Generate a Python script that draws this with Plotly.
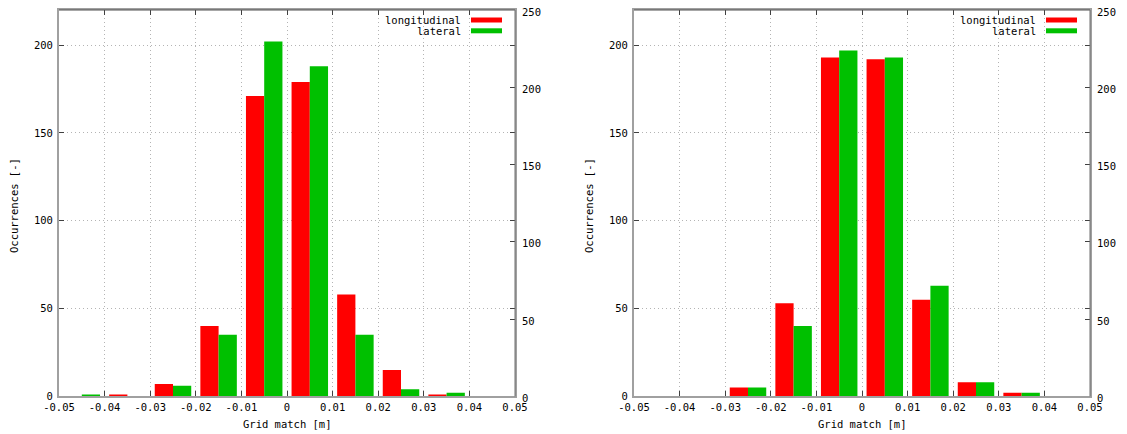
import plotly.graph_objects as go

# ---- data ----
bin_centers = [-0.045, -0.035, -0.025, -0.015, -0.005, 0.005, 0.015, 0.025, 0.035, 0.045]

left_longitudinal = [0, 1, 7, 40, 171, 179, 58, 15, 1, 0]
left_lateral = [1, 0, 6, 35, 202, 188, 35, 4, 2, 0]

right_longitudinal = [0, 0, 5, 53, 193, 192, 55, 8, 2, 0]
right_lateral = [0, 0, 5, 40, 197, 193, 63, 8, 2, 0]

x_tick_vals = [-0.05, -0.04, -0.03, -0.02, -0.01, 0, 0.01, 0.02, 0.03, 0.04, 0.05]
x_tick_labels = ["-0.05", "-0.04", "-0.03", "-0.02", "-0.01", "0",
                 "0.01", "0.02", "0.03", "0.04", "0.05"]
y_tick_vals = [0, 50, 100, 150, 200]
y2_tick_vals = [0, 50, 100, 150, 200, 250]

series_names = ["longitudinal", "lateral"]
series_colors = ["#ff0000", "#00c000"]

x_title = "Grid match [m]"
y_title = "Occurrences [-]"

# ---- layout constants ----
W, H = 1127, 434
OFF = 8  # page body margin in the browser
FONT = "DejaVu Sans Mono"
FS = 10.5
panels = [
    dict(x0=59, x1=515, xa="x", ya="y", ya2="y2", data=[left_longitudinal, left_lateral]),
    dict(x0=634, x1=1090, xa="x2", ya="y3", ya2="y4", data=[right_longitudinal, right_lateral]),
]
y_top_px, y_bot_px = 10, 396.3


def px_x(p):
    return (p - OFF) / W


def px_y(p):
    return 1 - (p - OFF) / H


fig = go.Figure()

layout = dict(
    width=W, height=H, autosize=False,
    margin=dict(l=0, r=0, t=0, b=0, autoexpand=False),
    paper_bgcolor="white", plot_bgcolor="white",
    barmode="group", bargap=0.2, bargroupgap=0,
    showlegend=False,
    font=dict(family=FONT, size=FS, color="black"),
)

annotations = []
shapes = []

for i, p in enumerate(panels):
    for name, color, vals in zip(series_names, series_colors, p["data"]):
        fig.add_trace(go.Bar(
            x=bin_centers, y=vals, name=name,
            marker=dict(color=color, line=dict(width=0)),
            xaxis=p["xa"], yaxis=p["ya"],
        ))
    # empty trace so the right-hand axis is drawn
    fig.add_trace(go.Scatter(x=[None], y=[None], mode="markers",
                             xaxis=p["xa"], yaxis=p["ya2"],
                             showlegend=False, hoverinfo="skip"))
    xkey = "xaxis" if p["xa"] == "x" else "xaxis2"
    ykey = "yaxis" if p["ya"] == "y" else "yaxis3"
    y2key = "yaxis2" if p["ya2"] == "y2" else "yaxis4"
    dom_x = [px_x(p["x0"]), px_x(p["x1"])]
    dom_y = [px_y(y_bot_px), px_y(y_top_px)]
    layout[xkey] = dict(
        domain=dom_x, anchor=p["ya"], range=[-0.05, 0.05],
        tickvals=x_tick_vals, ticktext=x_tick_labels,
        ticks="inside", ticklen=5, tickcolor="#404040", tickwidth=1,
        showline=True, linecolor="#a0a0a0", linewidth=2, mirror="ticks",
        showgrid=True, gridcolor="#b4b4b4", griddash="1px,3px", gridwidth=1,
        zeroline=False, tickfont=dict(family=FONT, size=FS),
        automargin=False, ticklabeloverflow="allow",
    )
    layout[ykey] = dict(
        domain=dom_y, anchor=p["xa"], range=[0, 220],
        tickvals=y_tick_vals,
        ticks="inside", ticklen=5, tickcolor="#404040", tickwidth=1,
        showline=True, linecolor="#a0a0a0", linewidth=2, mirror="ticks",
        showgrid=True, gridcolor="#b4b4b4", griddash="1px,3px", gridwidth=1,
        zeroline=False, tickfont=dict(family=FONT, size=FS),
        ticklabelstandoff=2, automargin=False, ticklabeloverflow="allow",
    )
    layout[y2key] = dict(
        overlaying=p["ya"], anchor=p["xa"], side="right", range=[0, 250],
        tickvals=y2_tick_vals,
        ticks="inside", ticklen=5, tickcolor="#404040", tickwidth=1,
        showline=False, showgrid=False, zeroline=False,
        tickfont=dict(family=FONT, size=FS),
        ticklabelstandoff=6, ticklabelshift=2,
        automargin=False, ticklabeloverflow="allow",
    )
    # dark top & right borders
    shapes.append(dict(type="line", xref="paper", yref="paper",
                       x0=dom_x[0], x1=dom_x[1], y0=dom_y[1], y1=dom_y[1],
                       line=dict(color="#505050", width=1)))
    shapes.append(dict(type="line", xref="paper", yref="paper",
                       x0=dom_x[1], x1=dom_x[1], y0=dom_y[0], y1=dom_y[1],
                       line=dict(color="#707070", width=1)))
    # axis titles
    annotations.append(dict(
        text=x_title, xref="paper", yref="paper",
        x=px_x((p["x0"] + p["x1"]) / 2), y=px_y(424),
        xanchor="center", yanchor="middle", showarrow=False,
        font=dict(family=FONT, size=FS),
    ))
    annotations.append(dict(
        text=y_title, xref="paper", yref="paper",
        x=px_x(p["x0"] - 45), y=px_y(206), textangle=-90,
        xanchor="center", yanchor="middle", showarrow=False,
        font=dict(family=FONT, size=FS),
    ))
    # legend (gnuplot style: text right-aligned, swatch on right)
    for k, (name, color) in enumerate(zip(series_names, series_colors)):
        ypx = 20 + k * 10.8
        annotations.append(dict(
            text=name, xref="paper", yref="paper",
            x=px_x(p["x1"] - 52), y=px_y(ypx),
            xanchor="right", yanchor="middle", showarrow=False,
            font=dict(family=FONT, size=FS),
        ))
        shapes.append(dict(type="line", xref="paper", yref="paper",
                           x0=px_x(p["x1"] - 44), x1=px_x(p["x1"] - 13),
                           y0=px_y(ypx), y1=px_y(ypx),
                           line=dict(color=color, width=5)))

layout["annotations"] = annotations
layout["shapes"] = shapes
fig.update_layout(**layout)

fig.write_html("out.html")
